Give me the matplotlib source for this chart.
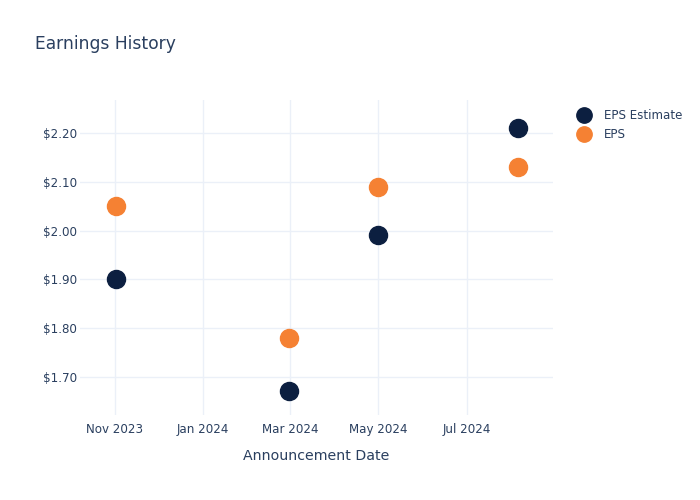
import matplotlib.pyplot as plt
import matplotlib.dates as mdates
import numpy as np
import datetime as dt

# data
dates = ["2023-11-02", "2024-02-29", "2024-05-01", "2024-08-05"]
eps_estimate = [1.90, 1.67, 1.99, 2.21]
eps_actual = [2.05, 1.78, 2.09, 2.13]
tick_dates = ["2023-11-01", "2024-01-01", "2024-03-01", "2024-05-01", "2024-07-01"]
tick_labels = ["Nov 2023", "Jan 2024", "Mar 2024", "May 2024", "Jul 2024"]
y_ticks = [1.70, 1.80, 1.90, 2.00, 2.10, 2.20]

text_col = "#2a3f5f"
grid_col = "#ebf0f8"
navy = "#0c1f40"
orange = "#f58133"

x = [dt.datetime.strptime(d, "%Y-%m-%d") for d in dates]
xt = [dt.datetime.strptime(d, "%Y-%m-%d") for d in tick_dates]

fig = plt.figure(figsize=(7, 5), dpi=100)
# plot area in pixels: left 80, right 553, top 100, bottom 415
ax = fig.add_axes([80 / 700, 85 / 500, 473 / 700, 315 / 500])

ax.plot(x, eps_estimate, "o", color=navy, markersize=13, label="EPS Estimate", zorder=3)
ax.plot(x, eps_actual, "o", color=orange, markersize=13, label="EPS", zorder=3)

ax.set_xlim(dt.datetime(2023, 10, 8), dt.datetime(2024, 8, 29, 12))
ax.set_ylim(1.621, 2.2685)
ax.set_xticks(xt)
ax.set_xticklabels(tick_labels)
ax.set_yticks(y_ticks)
ax.set_yticklabels(["$%.2f" % v for v in y_ticks])

for s in ax.spines.values():
    s.set_visible(False)
ax.grid(True, color=grid_col, linewidth=1)
ax.set_axisbelow(True)
ax.tick_params(length=0, labelsize=8.6, colors=text_col)
ax.tick_params(axis="y", pad=2)
ax.tick_params(axis="x", pad=6)

ax.set_xlabel("Announcement Date", fontsize=10.2, color=text_col, labelpad=9)
fig.text(35 / 700, 1 - 44 / 500, "Earnings History", fontsize=12.3, color=text_col, va="center")

leg = ax.legend(loc="upper left", bbox_to_anchor=(572 / 700, 1 - 104 / 500),
                bbox_transform=fig.transFigure, frameon=False, fontsize=8.6,
                handletextpad=1.1, labelspacing=0.55, handlelength=1.2, borderaxespad=0,
                markerscale=0.85)
for t in leg.get_texts():
    t.set_color(text_col)

fig.savefig("out.png", dpi=100)
